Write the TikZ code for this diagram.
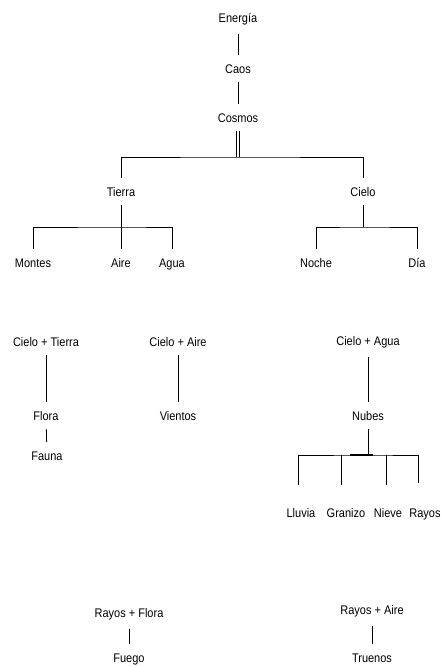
\documentclass[tikz,border=0pt]{standalone}
\usepackage{fontspec}
\setmainfont{Liberation Sans}[FakeStretch=0.88]
\begin{document}
\begin{tikzpicture}[x=1pt, y=-1pt,
  concept/.style={anchor=base, inner xsep=1pt, inner ysep=9pt, font=\fontsize{12.5}{15}\selectfont},
  link/.style={-, line width=0.8pt, draw=black}]
\useasboundingbox (0,0) rectangle (440,667);
% origen
\node[concept] (energia) at (238,22) {Energía};
\node[concept] (caos) at (238,73) {Caos};
\node[concept] (cosmos) at (238,122) {Cosmos};
\node[concept] (tierra) at (121,196) {Tierra};
\node[concept] (cielo) at (363,196) {Cielo};
\node[concept] (montes) at (33,267) {Montes};
\node[concept] (aire) at (121,267) {Aire};
\node[concept] (agua) at (172,267) {Agua};
\node[concept] (noche) at (316,267) {Noche};
\node[concept] (dia) at (417,267) {Día};
% combinaciones
\node[concept] (cielotierra) at (46,346) {Cielo + Tierra};
\node[concept] (flora) at (46,420) {Flora};
\node[concept] (fauna) at (47,460) {Fauna};
\node[concept] (cieloaire) at (178,346) {Cielo + Aire};
\node[concept] (vientos) at (178,420) {Vientos};
\node[concept] (cieloagua) at (368,345) {Cielo + Agua};
\node[concept] (nubes) at (368,420) {Nubes};
\node[concept] (lluvia) at (301,517) {Lluvia};
\node[concept] (granizo) at (346,517) {Granizo};
\node[concept] (nieve) at (388,517) {Nieve};
\node[concept] (rayos) at (425,517) {Rayos};
\node[concept] (rayosflora) at (129,617) {Rayos + Flora};
\node[concept] (fuego) at (129,662) {Fuego};
\node[concept] (rayosaire) at (372,614) {Rayos + Aire};
\node[concept] (truenos) at (372,662) {Truenos};
% uniones
\coordinate (j0) at (238,157);
\coordinate (j1) at (121,227);
\coordinate (j2) at (363,227);
\coordinate (j3) at (368,455);
\coordinate (l1) at (298,485);
\coordinate (l2) at (341,485);
\coordinate (l3) at (386,485);
\coordinate (l4) at (418,483);
\path [link] (energia) edge (caos);
\path [link] (caos) edge (cosmos);
\draw [link, double, double distance=2.2pt] (cosmos) -- (j0);
\draw [link] (tierra) |- (j0) -| (cielo);
\path [link] (tierra) edge (aire);
\draw [link] (montes) |- (j1) -| (agua);
\path [link] (cielo) edge (j2);
\draw [link] (noche) |- (j2) -| (dia);
\path [link] (cielotierra) edge (flora);
\path [link] (flora) edge (fauna);
\path [link] (cieloaire) edge (vientos);
\path [link] (cieloagua) edge (nubes);
\path [link] (nubes) edge (j3);
\draw [link] (l1) |- (j3) -| (l4);
\draw [link] (l2) -- (l2 |- j3);
\draw [link] (l3) -- (l3 |- j3);
\draw [link, line width=2pt] ([xshift=-18pt]j3) -- ([xshift=5pt]j3);
\path [link] (rayosflora) edge (fuego);
\path [link] (rayosaire) edge (truenos);
\end{tikzpicture}
\end{document}
